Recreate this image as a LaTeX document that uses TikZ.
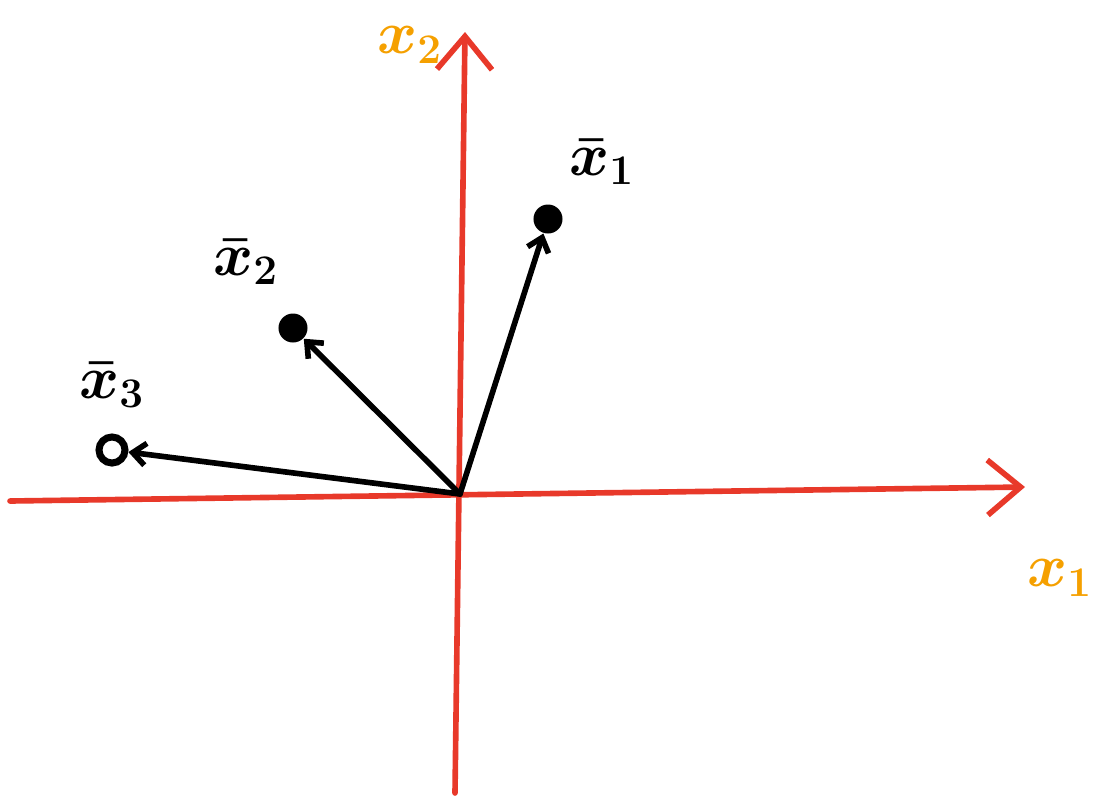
\documentclass[tikz,border=0pt]{standalone}
\usepackage{xcolor}
\usepackage{tikz}
\usetikzlibrary{arrows.meta}

\definecolor{axisred}{HTML}{E8392A}
\definecolor{labelorange}{HTML}{F5A000}

\begin{document}
\begin{tikzpicture}[
x=0.01cm,y=-0.01cm,
every node/.style={font=\fontsize{17}{20}\selectfont\boldmath},
axis/.style={draw=axisred,line width=1.6pt,line cap=round,
  -{Straight Barb[length=0.33cm,width=0.55cm,line width=1.6pt]}},
vec/.style={draw=black,line width=1.6pt,line cap=round,
  -{Straight Barb[length=0.13cm,width=0.22cm,line width=1.6pt]}},
dot/.style={circle,fill=black,inner sep=0pt,minimum size=0.29cm},
hole/.style={circle,draw=black,line width=2pt,inner sep=0pt,minimum size=0.26cm}
]
\useasboundingbox (0,0) rectangle (1093,796);

% Axes
\coordinate (O) at (460,494);
\coordinate (x1start) at (10,501);
\coordinate (x1end) at (1025,487);
\coordinate (x2start) at (455,793);
\coordinate (x2end) at (465,32);
\draw[axis] (x1start) -- (x1end);
\draw[axis] (x2start) -- (x2end);
\node[text=labelorange] (x1label) at (1060,578) {$x_1$};
\node[text=labelorange] (x2label) at (410,45) {$x_2$};

% Points
\node[dot] (p1) at (548,219) {};
\node[dot] (p2) at (293,328) {};
\node[hole] (p3) at (112,450) {};

% Vectors
\draw[vec] (O) -- (p1);
\draw[vec] (O) -- (p2);
\draw[vec] (O) -- (p3);

% Labels
\node (l1) at (602,162) {$\bar{x}_1$};
\node (l2) at (246,262) {$\bar{x}_2$};
\node (l3) at (112,385) {$\bar{x}_3$};

\end{tikzpicture}
\end{document}
